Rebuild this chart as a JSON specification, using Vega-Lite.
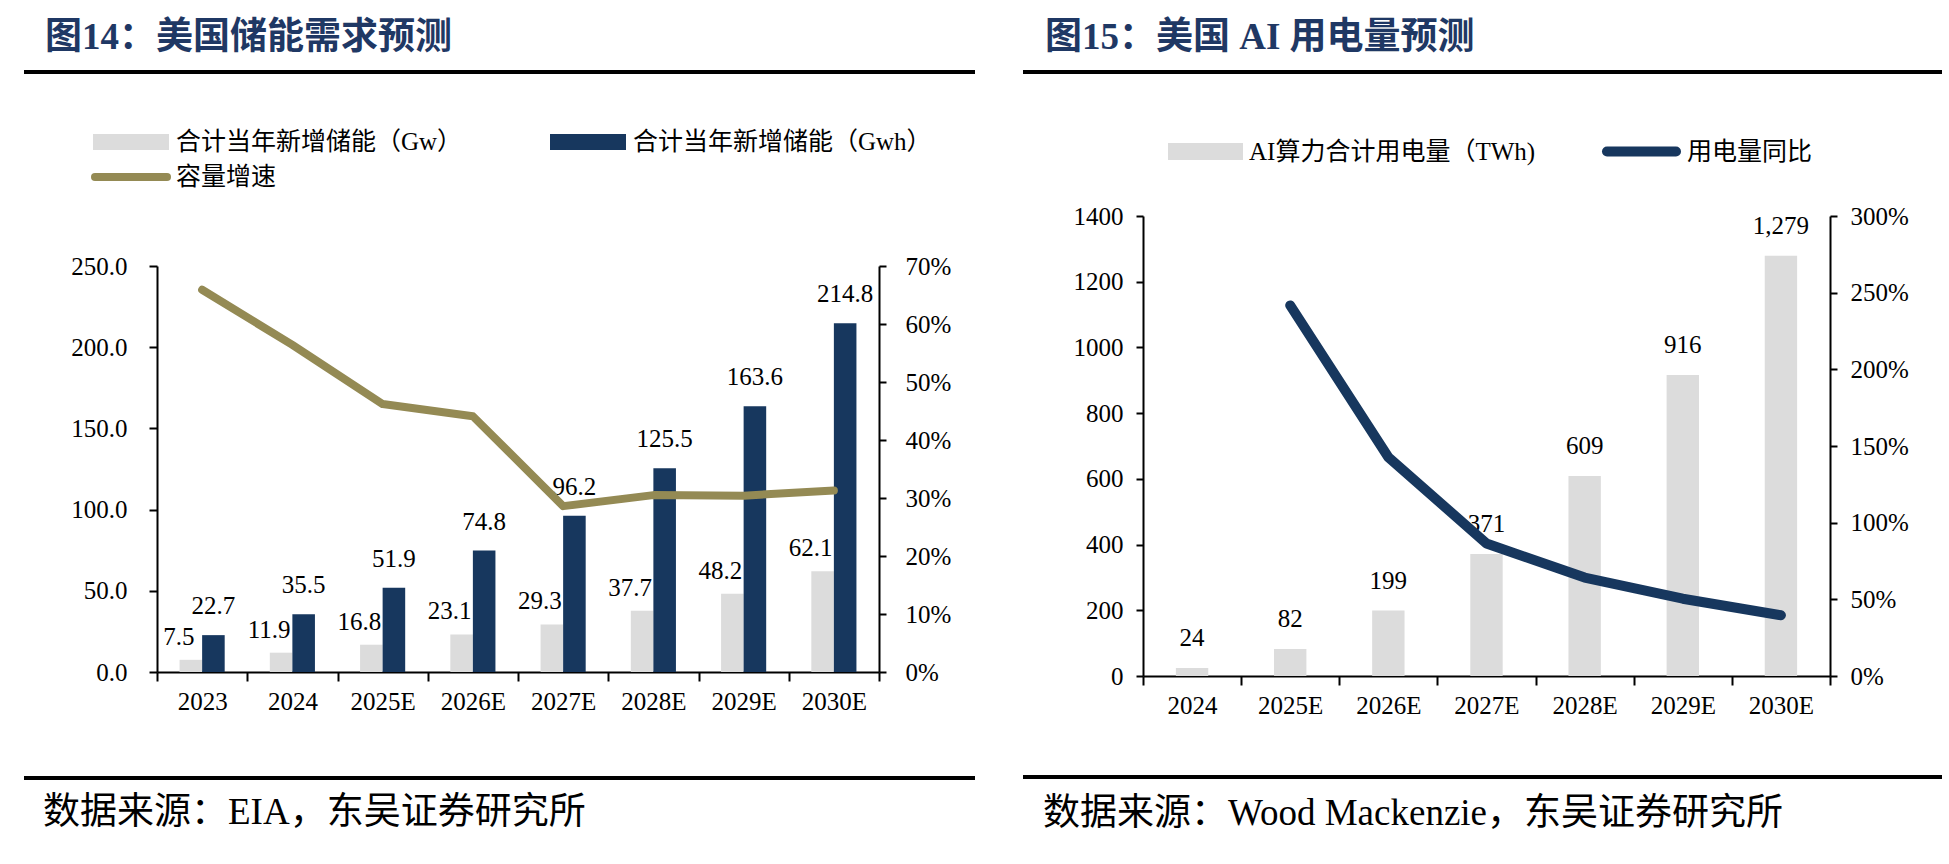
{
  "$schema": "https://vega.github.io/schema/vega-lite/v6.json",
  "background": "white",
  "padding": {"left": 22, "top": 19, "right": 0, "bottom": 0},
  "config": {
    "view": {"stroke": null},
    "font": "Liberation Serif, Noto Sans CJK SC",
    "axis": {"domainColor": "black", "domainWidth": 2, "tickColor": "black", "tickWidth": 2, "labelFont": "Liberation Serif", "labelFontSize": 25, "labelColor": "black", "grid": false, "title": null},
    "legend": {"labelFont": "Liberation Serif, Noto Sans CJK SC", "labelFontSize": 25, "labelColor": "black", "labelLimit": 600, "title": null}
  },
  "datasets": {
    "rule": [{"start": 0, "end": 1}],
    "storage": [
      {"year": "2023", "series": "合计当年新增储能（Gw）", "value": 7.5},
      {"year": "2023", "series": "合计当年新增储能（Gwh）", "value": 22.7},
      {"year": "2024", "series": "合计当年新增储能（Gw）", "value": 11.9},
      {"year": "2024", "series": "合计当年新增储能（Gwh）", "value": 35.5},
      {"year": "2025E", "series": "合计当年新增储能（Gw）", "value": 16.8},
      {"year": "2025E", "series": "合计当年新增储能（Gwh）", "value": 51.9},
      {"year": "2026E", "series": "合计当年新增储能（Gw）", "value": 23.1},
      {"year": "2026E", "series": "合计当年新增储能（Gwh）", "value": 74.8},
      {"year": "2027E", "series": "合计当年新增储能（Gw）", "value": 29.3},
      {"year": "2027E", "series": "合计当年新增储能（Gwh）", "value": 96.2},
      {"year": "2028E", "series": "合计当年新增储能（Gw）", "value": 37.7},
      {"year": "2028E", "series": "合计当年新增储能（Gwh）", "value": 125.5},
      {"year": "2029E", "series": "合计当年新增储能（Gw）", "value": 48.2},
      {"year": "2029E", "series": "合计当年新增储能（Gwh）", "value": 163.6},
      {"year": "2030E", "series": "合计当年新增储能（Gw）", "value": 62.1},
      {"year": "2030E", "series": "合计当年新增储能（Gwh）", "value": 214.8}
    ],
    "growth": [
      {"year": "2023", "rate": 0.659},
      {"year": "2024", "rate": 0.564},
      {"year": "2025E", "rate": 0.462},
      {"year": "2026E", "rate": 0.441},
      {"year": "2027E", "rate": 0.286},
      {"year": "2028E", "rate": 0.305},
      {"year": "2029E", "rate": 0.304},
      {"year": "2030E", "rate": 0.313}
    ],
    "ai": [
      {"year": "2024", "twh": 24, "yoy": null},
      {"year": "2025E", "twh": 82, "yoy": 2.417},
      {"year": "2026E", "twh": 199, "yoy": 1.427},
      {"year": "2027E", "twh": 371, "yoy": 0.864},
      {"year": "2028E", "twh": 609, "yoy": 0.642},
      {"year": "2029E", "twh": 916, "yoy": 0.504},
      {"year": "2030E", "twh": 1279, "yoy": 0.396}
    ]
  },
  "columns": 2,
  "align": "none",
  "spacing": 44,
  "resolve": {"scale": {"color": "independent", "stroke": "independent"}},
  "concat": [
    {
      "columns": 1,
      "align": "none",
      "spacing": 30,
      "resolve": {"scale": {"color": "independent", "stroke": "independent"}},
      "concat": [
        {
          "width": 722, "height": 2,
          "data": {"name": "rule"},
          "mark": {"type": "rule", "color": "black", "strokeWidth": 4},
          "encoding": {
            "x": {"field": "start", "type": "quantitative", "scale": {"domain": [0, 1], "range": [-133, 818]}, "axis": null},
            "x2": {"field": "end"},
            "y": {"datum": 0, "type": "quantitative", "scale": {"domain": [0, 1]}, "axis": null}
          },
          "title": {"text": "图14：美国储能需求预测", "anchor": "start", "frame": "bounds", "dx": 23, "offset": 13, "fontSize": 37, "fontWeight": "bold", "color": "#1f3864", "font": "Liberation Serif, Noto Sans CJK SC"}
        },
        {
          "width": 722, "height": 406,
          "resolve": {"scale": {"y": "independent"}},
          "layer": [
            {
              "data": {"name": "storage"},
              "layer": [
                {
                  "mark": {"type": "bar"},
                  "encoding": {
                    "x": {"field": "year", "type": "nominal", "sort": null, "scale": {"paddingInner": 0, "paddingOuter": 0}, "axis": {"tickBand": "extent", "tickSize": 9, "labelPadding": 8, "labelAngle": 0}},
                    "xOffset": {"field": "series", "type": "nominal", "sort": null, "scale": {"paddingInner": 0, "paddingOuter": 1}},
                    "y": {"field": "value", "type": "quantitative", "scale": {"domain": [0, 250], "nice": false}, "axis": {"values": [0, 50, 100, 150, 200, 250], "format": ".1f", "tickSize": 8, "labelPadding": 22, "minExtent": 133}},
                    "color": {"field": "series", "type": "nominal", "sort": null,
                      "scale": {"domain": ["合计当年新增储能（Gw）", "合计当年新增储能（Gwh）"], "range": ["#dcdcdc", "#17375e"]},
                      "legend": {"orient": "none", "legendX": -64, "legendY": -162, "direction": "horizontal", "columnPadding": 87, "symbolType": "M-1,-0.21L1,-0.21L1,0.21L-1,0.21Z", "symbolSize": 5776, "symbolStrokeWidth": 0, "labelOffset": 7}}
                  }
                },
                {
                  "transform": [{"filter": "datum.series === '合计当年新增储能（Gw）'"}],
                  "mark": {"type": "text", "dx": -12, "dy": -23, "baseline": "middle", "fontSize": 25, "font": "Liberation Serif", "color": "black"},
                  "encoding": {
                    "x": {"field": "year", "type": "nominal", "sort": null},
                    "xOffset": {"field": "series", "type": "nominal", "sort": null},
                    "y": {"field": "value", "type": "quantitative"},
                    "text": {"field": "value", "type": "quantitative", "format": ".1f"}
                  }
                },
                {
                  "transform": [{"filter": "datum.series === '合计当年新增储能（Gwh）'"}],
                  "mark": {"type": "text", "dy": -29, "baseline": "middle", "fontSize": 25, "font": "Liberation Serif", "color": "black"},
                  "encoding": {
                    "x": {"field": "year", "type": "nominal", "sort": null},
                    "xOffset": {"field": "series", "type": "nominal", "sort": null},
                    "y": {"field": "value", "type": "quantitative"},
                    "text": {"field": "value", "type": "quantitative", "format": ".1f"}
                  }
                }
              ]
            },
            {
              "data": {"name": "growth"},
              "mark": {"type": "line", "strokeWidth": 8, "strokeCap": "round", "strokeJoin": "round"},
              "encoding": {
                "x": {"field": "year", "type": "nominal", "sort": null},
                "y": {"field": "rate", "type": "quantitative", "scale": {"domain": [0, 0.7], "nice": false}, "axis": {"orient": "right", "values": [0, 0.1, 0.2, 0.3, 0.4, 0.5, 0.6, 0.7], "format": ".0%", "tickSize": 7, "labelPadding": 19}},
                "stroke": {"datum": "容量增速", "scale": {"range": ["#948a54"]},
                  "legend": {"orient": "none", "legendX": -66, "legendY": -129, "symbolType": "stroke", "symbolSize": 5184, "symbolStrokeWidth": 8, "labelOffset": 5, "encode": {"symbols": {"update": {"strokeCap": {"value": "round"}}}}}}
              }
            }
          ]
        },
        {
          "width": 722, "height": 34,
          "data": {"name": "rule"},
          "mark": {"type": "rule", "color": "black", "strokeWidth": 4},
          "encoding": {
            "x": {"field": "start", "type": "quantitative", "scale": {"domain": [0, 1], "range": [-133, 818]}, "axis": null},
            "x2": {"field": "end"},
            "y": {"datum": 0, "type": "quantitative", "scale": {"domain": [0, 1]}, "axis": null}
          },
          "title": {"text": "数据来源：EIA，东吴证券研究所", "orient": "bottom", "anchor": "start", "frame": "bounds", "dx": 21, "offset": 15, "fontSize": 37, "fontWeight": "normal", "color": "black", "font": "Liberation Serif, Noto Sans CJK SC"}
        }
      ]
    },
    {
      "columns": 1,
      "align": "none",
      "spacing": 38,
      "resolve": {"scale": {"color": "independent", "stroke": "independent"}},
      "concat": [
        {
          "width": 687, "height": 2,
          "data": {"name": "rule"},
          "mark": {"type": "rule", "color": "black", "strokeWidth": 4},
          "encoding": {
            "x": {"field": "start", "type": "quantitative", "scale": {"domain": [0, 1], "range": [-120, 799]}, "axis": null},
            "x2": {"field": "end"},
            "y": {"datum": 0, "type": "quantitative", "scale": {"domain": [0, 1]}, "axis": null}
          },
          "title": {"text": "图15：美国 AI 用电量预测", "anchor": "start", "frame": "bounds", "dx": 24, "offset": 13, "fontSize": 37, "fontWeight": "bold", "color": "#1f3864", "font": "Liberation Serif, Noto Sans CJK SC"}
        },
        {
          "width": 687, "height": 460,
          "resolve": {"scale": {"y": "independent"}},
          "layer": [
            {
              "data": {"name": "ai"},
              "layer": [
                {
                  "mark": {"type": "bar", "width": {"band": 0.33}},
                  "encoding": {
                    "x": {"field": "year", "type": "nominal", "sort": null, "scale": {"paddingInner": 0, "paddingOuter": 0}, "axis": {"tickBand": "extent", "tickSize": 9, "labelPadding": 8, "labelAngle": 0}},
                    "y": {"field": "twh", "type": "quantitative", "scale": {"domain": [0, 1400], "nice": false}, "axis": {"values": [0, 200, 400, 600, 800, 1000, 1200, 1400], "format": "d", "tickSize": 7, "labelPadding": 13, "minExtent": 120}},
                    "color": {"datum": "AI算力合计用电量（TWh)", "scale": {"range": ["#dcdcdc"]},
                      "legend": {"orient": "none", "legendX": 25, "legendY": -102, "symbolType": "M-1,-0.227L1,-0.227L1,0.227L-1,0.227Z", "symbolSize": 5625, "symbolStrokeWidth": 0, "labelOffset": 6}}
                  }
                },
                {
                  "mark": {"type": "text", "dy": -30, "baseline": "middle", "fontSize": 25, "font": "Liberation Serif", "color": "black"},
                  "encoding": {
                    "x": {"field": "year", "type": "nominal", "sort": null},
                    "y": {"field": "twh", "type": "quantitative"},
                    "text": {"field": "twh", "type": "quantitative", "format": ","}
                  }
                }
              ]
            },
            {
              "data": {"name": "ai"},
              "mark": {"type": "line", "strokeWidth": 10, "strokeCap": "round", "strokeJoin": "round"},
              "encoding": {
                "x": {"field": "year", "type": "nominal", "sort": null},
                "y": {"field": "yoy", "type": "quantitative", "scale": {"domain": [0, 3], "nice": false}, "axis": {"orient": "right", "values": [0, 0.5, 1, 1.5, 2, 2.5, 3], "format": ".0%", "tickSize": 7, "labelPadding": 13}},
                "stroke": {"datum": "用电量同比", "scale": {"range": ["#17375e"]},
                  "legend": {"orient": "none", "legendX": 459, "legendY": -104, "symbolType": "stroke", "symbolSize": 4761, "symbolStrokeWidth": 10, "labelOffset": 6, "encode": {"symbols": {"update": {"strokeCap": {"value": "round"}}}}}}
              }
            }
          ]
        },
        {
          "width": 687, "height": 21,
          "data": {"name": "rule"},
          "mark": {"type": "rule", "color": "black", "strokeWidth": 4},
          "encoding": {
            "x": {"field": "start", "type": "quantitative", "scale": {"domain": [0, 1], "range": [-120, 799]}, "axis": null},
            "x2": {"field": "end"},
            "y": {"datum": 0, "type": "quantitative", "scale": {"domain": [0, 1]}, "axis": null}
          },
          "title": {"text": "数据来源：Wood Mackenzie，东吴证券研究所", "orient": "bottom", "anchor": "start", "frame": "bounds", "dx": 22, "offset": 17, "fontSize": 37, "fontWeight": "normal", "color": "black", "font": "Liberation Serif, Noto Sans CJK SC"}
        }
      ]
    }
  ]
}
